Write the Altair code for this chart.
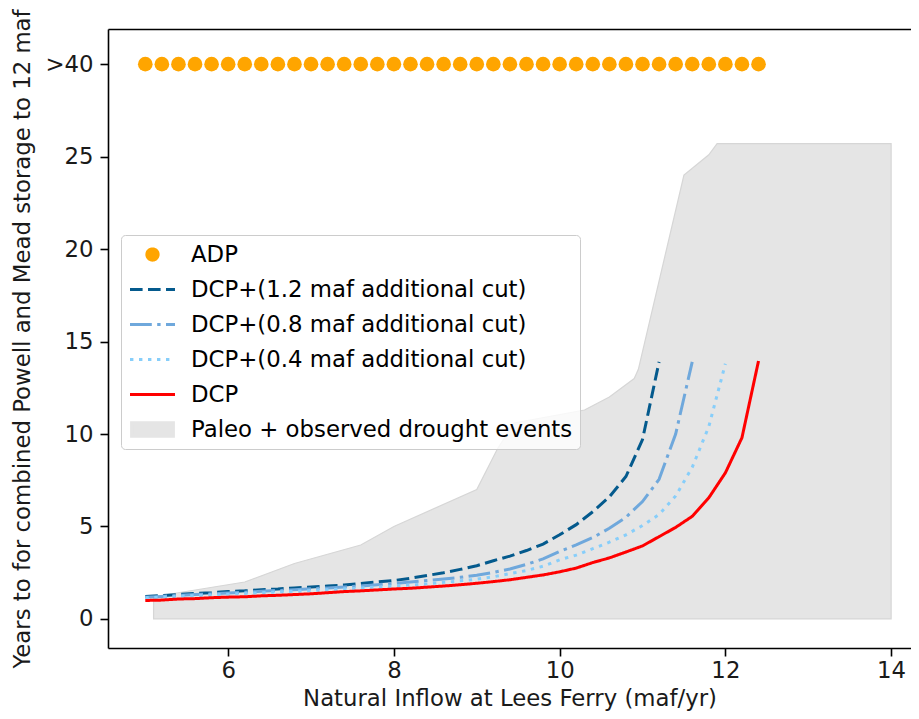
import altair as alt
import pandas as pd

# ---------------- data ----------------
ADP = "ADP"
S12 = "DCP+(1.2 maf additional cut)"
S08 = "DCP+(0.8 maf additional cut)"
S04 = "DCP+(0.4 maf additional cut)"
DCP = "DCP"
PALEO = "Paleo + observed drought events"

series_names = [ADP, S12, S08, S04, DCP, PALEO]
series_colors = ["#ffa500", "#045a8d", "#6fa8dc", "#87cefa", "#ff0000", "#e5e5e5"]

inflow = [5.0, 5.2, 5.4, 5.6, 5.8, 6.0, 6.2, 6.4, 6.6, 6.8, 7.0, 7.2, 7.4, 7.6,
          7.8, 8.0, 8.2, 8.4, 8.6, 8.8, 9.0, 9.2, 9.4, 9.6, 9.8, 10.0, 10.2,
          10.4, 10.6, 10.8, 11.0, 11.2, 11.4, 11.6, 11.8, 12.0, 12.2, 12.4]

# ADP never drops storage to 12 maf within 40 years: plotted on the ">40" row (30)
adp_years = [30, 30, 30, 30, 30, 30, 30, 30, 30, 30, 30, 30, 30, 30, 30, 30,
             30, 30, 30, 30, 30, 30, 30, 30, 30, 30, 30, 30, 30, 30, 30, 30,
             30, 30, 30, 30, 30, 30]

dcp12_years = [1.22, 1.27, 1.32, 1.38, 1.42, 1.48, 1.52, 1.58, 1.62, 1.68, 1.73,
               1.78, 1.84, 1.92, 2.00, 2.08, 2.20, 2.35, 2.50, 2.68, 2.88, 3.15,
               3.40, 3.70, 4.05, 4.55, 5.10, 5.80, 6.60, 7.70, 9.70, 13.90]

dcp08_years = [1.18, 1.22, 1.27, 1.32, 1.36, 1.40, 1.45, 1.50, 1.54, 1.58, 1.63,
               1.68, 1.73, 1.78, 1.85, 1.92, 2.00, 2.08, 2.16, 2.25, 2.36, 2.52,
               2.70, 2.95, 3.25, 3.65, 4.00, 4.40, 4.90, 5.50, 6.35, 7.55, 10.00,
               13.90]

dcp04_years = [1.15, 1.18, 1.22, 1.26, 1.30, 1.34, 1.38, 1.42, 1.46, 1.50, 1.54,
               1.58, 1.63, 1.68, 1.73, 1.78, 1.84, 1.90, 1.98, 2.06, 2.15, 2.28,
               2.45, 2.62, 2.85, 3.20, 3.45, 3.80, 4.15, 4.55, 5.05, 5.65, 6.65,
               8.20, 10.40, 13.80]

dcp_years = [1.00, 1.02, 1.08, 1.10, 1.15, 1.18, 1.20, 1.25, 1.28, 1.32, 1.36,
             1.42, 1.48, 1.52, 1.57, 1.62, 1.66, 1.72, 1.78, 1.85, 1.93, 2.02,
             2.12, 2.25, 2.38, 2.55, 2.75, 3.05, 3.30, 3.62, 3.95, 4.45, 4.95,
             5.55, 6.55, 7.90, 9.80, 13.95]

paleo_x = [5.1, 6.2, 6.8, 7.6, 8.0, 9.0, 9.25, 9.45, 10.3, 10.6, 10.9, 10.95,
           11.5, 11.8, 11.9, 14.0]
paleo_y = [1.2, 2.0, 3.0, 4.0, 5.0, 7.0, 9.2, 10.6, 11.3, 12.0, 13.0, 13.5,
           24.0, 25.1, 25.7, 25.7]

y_ticks = [0, 5, 10, 15, 20, 25, 30]
x_ticks = [6, 8, 10, 12, 14]

# ---------------- tables ----------------
lines_rows = []
for name, vals in [(S12, dcp12_years), (S08, dcp08_years), (S04, dcp04_years), (DCP, dcp_years)]:
    for xv, yv in zip(inflow, vals):
        lines_rows.append({"x": xv, "y": yv, "series": name})
lines_df = pd.DataFrame(lines_rows)
adp_df = pd.DataFrame({"x": inflow, "y": adp_years, "series": ADP})
paleo_df = pd.DataFrame({"x": paleo_x, "y": paleo_y, "series": PALEO})

FONT = "DejaVu Sans"
FS = 22.8

color_scale = alt.Scale(domain=series_names, range=series_colors)
x_scale = alt.Scale(domain=[4.55, 14.24], nice=False, zero=False)
y_scale = alt.Scale(domain=[-1.57, 31.9], nice=False, zero=False)

dash_scale = alt.Scale(
    domain=[S12, S08, S04, DCP],
    range=[[12.6, 5.4], [21.8, 5.4, 3.4, 5.4], [3.4, 5.6], [1, 0]],
)

circle_path = "M-0.25,0A0.25,0.25,0,1,1,0.25,0A0.25,0.25,0,1,1,-0.25,0Z"
rect_path = "M-0.93,-0.3H0.93V0.3H-0.93Z"


def t(name):
    return f"datum.value === '{name}'"


shape_expr = f"{t(ADP)} ? '{circle_path}' : ({t(PALEO)} ? '{rect_path}' : 'stroke')"
fill_expr = f"{t(ADP)} ? '#ffa500' : ({t(PALEO)} ? '#e5e5e5' : 'transparent')"
dash_expr = (f"{t(S12)} ? [12.6, 5.4] : ({t(S08)} ? [21.8, 5.4, 3.4, 5.4] : "
             f"({t(S04)} ? [3.4, 5.6] : [1, 0]))")

legend = alt.Legend(
    title=None, orient="none", legendX=13, legendY=206, direction="vertical",
    padding=7.5, fillColor="rgba(255,255,255,0.8)", strokeColor="#cccccc",
    cornerRadius=4, labelFont=FONT, labelFontSize=FS, labelColor="#000000",
    labelLimit=0, symbolSize=2025, clipHeight=24, rowPadding=11, labelOffset=14.5,
    symbolType={"expr": shape_expr},
    symbolFillColor={"expr": fill_expr},
    symbolDash={"expr": dash_expr},
    symbolStrokeWidth=3, symbolOpacity=1,
)

y_axis = alt.Axis(values=y_ticks, grid=False,
                  labelExpr="datum.value == 30 ? '>40' : datum.label",
                  title="Years to for combined Powell and Mead storage to 12 maf",
                  labelPadding=7, titlePadding=10)

color_enc = alt.Color("series:N", scale=color_scale, legend=legend)
y_enc = alt.Y("y:Q", scale=y_scale, axis=y_axis)

area = alt.Chart(paleo_df).mark_area(
    stroke="#d6d6d6", strokeWidth=1.2, opacity=1, interpolate="linear"
).encode(
    x=alt.X("x:Q", scale=x_scale,
            axis=alt.Axis(orient="top", labels=False, ticks=False, title=None,
                          domain=True, grid=False)),
    y=y_enc,
    color=color_enc,
)

lines = alt.Chart(lines_df).mark_line(strokeWidth=3, strokeCap="butt").encode(
    x=alt.X("x:Q", scale=x_scale,
            axis=alt.Axis(values=x_ticks, format="d", grid=False,
                          title="Natural Inflow at Lees Ferry (maf/yr)",
                          labelPadding=3, titlePadding=6)),
    y=y_enc,
    color=color_enc,
    strokeDash=alt.StrokeDash("series:N", scale=dash_scale, legend=None),
    detail="series:N",
)

points = alt.Chart(adp_df).mark_circle(size=215, opacity=1).encode(
    x=alt.X("x:Q", scale=x_scale, axis=None),
    y=y_enc,
    color=color_enc,
)

chart = alt.layer(area, lines, points).resolve_axis(x="independent").properties(
    width=803, height=619,
    autosize=alt.AutoSizeParams(type="none"),
    padding={"left": 100, "top": 21, "right": 0, "bottom": 63},
).configure_view(stroke=None).configure_axis(
    domainColor="#000000", domainWidth=1.6, tickColor="#000000", tickWidth=1.6,
    tickSize=8, labelFont=FONT, labelFontSize=FS, labelColor="#1a1a1a",
    titleFont=FONT, titleFontSize=FS, titleFontWeight="normal", titleColor="#1a1a1a",
)

chart.save("out.html", embed_options={"renderer": "svg", "actions": False})
